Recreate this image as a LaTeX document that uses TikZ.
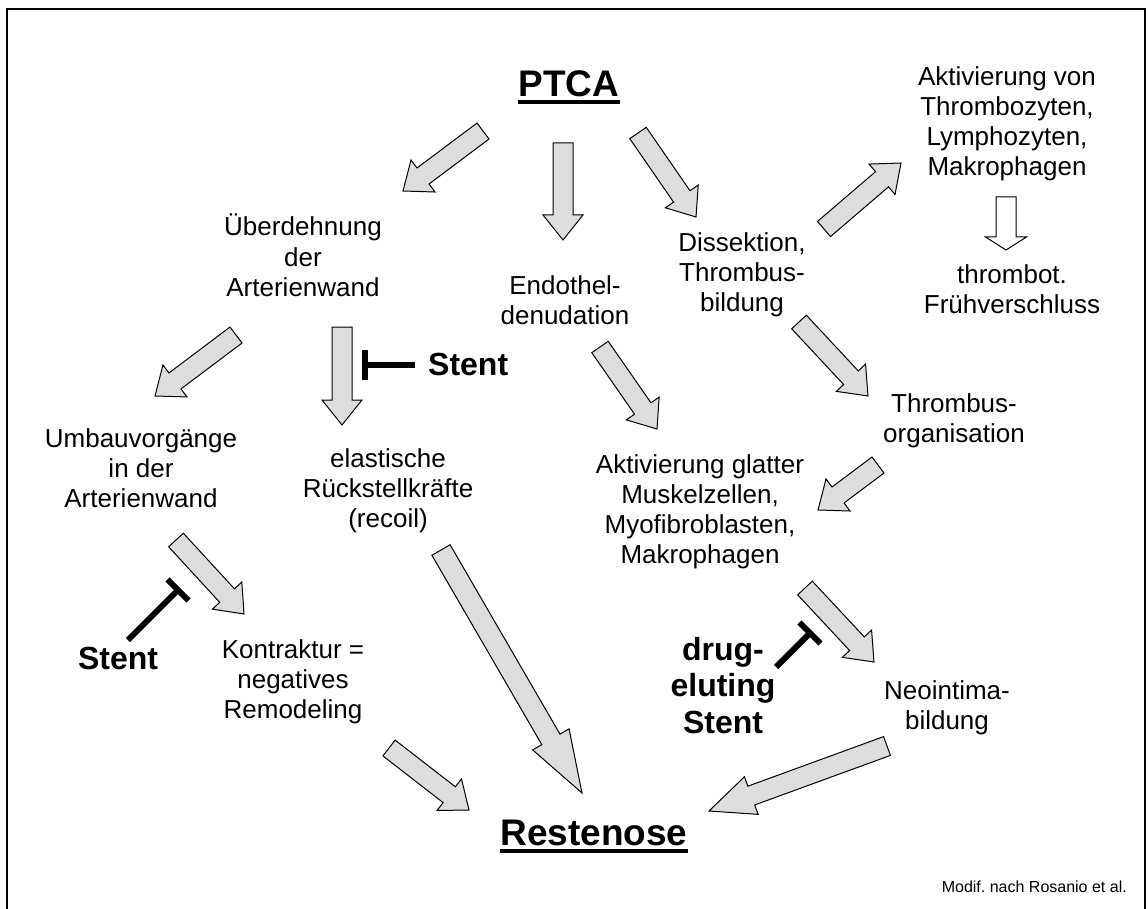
\documentclass[tikz,border=0pt]{standalone}
\usepackage{fontspec}
\setmainfont{Liberation Sans}
\usetikzlibrary{calc}
\definecolor{arrowgray}{HTML}{DDDDDD}
\frenchspacing
\tikzset{
  txt/.style={font=\fontsize{26}{30}\selectfont, align=center, inner sep=0pt, anchor=base},
  lbl/.style={font=\fontsize{32}{36.5}\selectfont\bfseries, align=center, inner sep=0pt, anchor=base},
  ttl/.style={font=\fontsize{37}{42}\selectfont\bfseries, inner sep=0pt, anchor=base},
  blockarr/.style={draw=black, fill=arrowgray, line width=1pt},
  whitearr/.style={draw=black, fill=white, line width=1pt},
  inhib/.style={line width=6pt},
  uline/.style={line width=3.5pt},
}
% #1 options, #2 tail, #3 tip, #4 shaft width, #5 head width, #6 head length
\newcommand\blockarrow[6][]{%
  \coordinate (hb) at ($(#3)!#6pt!(#2)$);
  \draw[blockarr,#1] ($(#2)!#4*0.5pt!90:(#3)$) -- ($(hb)!#4*0.5pt!90:(#3)$)
    -- ($(hb)!#5*0.5pt!90:(#3)$) -- (#3) -- ($(hb)!#5*0.5pt!-90:(#3)$)
    -- ($(hb)!#4*0.5pt!-90:(#3)$) -- ($(#2)!#4*0.5pt!-90:(#3)$) -- cycle;
}
\newcommand\inhibitor[3]{% #1 stem start, #2 bar centre, #3 half bar length
  \draw[inhib] (#1) -- (#2);
  \draw[inhib] ($(#2)!#3pt!90:(#1)$) -- ($(#2)!#3pt!-90:(#1)$);
}
\begin{document}
\begin{tikzpicture}[x=1pt,y=-1pt]
\useasboundingbox (0,0) rectangle (1148,909);
% frame
\draw[line width=2pt] (7,909) -- (7,9) -- (1145,9) -- (1145,909);

% texts (multi-line nodes are anchored at the baseline of their last line)
\node[ttl] (ptca) at (569,97) {PTCA};
\draw[uline] ([yshift=-5pt]ptca.base west) -- ([yshift=-5pt]ptca.base east);
\node[txt] (ueber) at (303,296) {Überdehnung\\der\\Arterienwand};
\node[txt] (endo) at (565,324) {Endothel-\\denudation};
\node[txt] (diss) at (742,312) {Dissektion,\\Thrombus-\\bildung};
\node[txt] (aktv) at (1007,176) {Aktivierung von\\Thrombozyten,\\Lymphozyten,\\Makrophagen};
\node[txt] (frueh) at (1012,313) {thrombot.\\Frühverschluss};
\node[txt] (umbau) at (141,507) {Umbauvorgänge\\in der\\Arterienwand};
\node[txt] (elast) at (388,527) {elastische\\Rückstellkräfte\\(recoil)};
\node[txt] (glatt) at (700,563) {Aktivierung glatter\\Muskelzellen,\\Myofibroblasten,\\Makrophagen};
\node[txt] (torg) at (954,442) {Thrombus-\\organisation};
\node[txt] (kontr) at (293,718) {Kontraktur =\\negatives\\Remodeling};
\node[txt] (neo) at (947,729) {Neointima-\\bildung};
\node[ttl] (rest) at (594,845) {Restenose};
\draw[uline] ([yshift=-6pt]rest.base west) -- ([yshift=-6pt]rest.base east);
\node[lbl, anchor=base west] (st1) at (428,375) {Stent};
\node[lbl] (st2) at (118,669) {Stent};
\node[lbl] (des) at (723,733) {drug-\\eluting\\Stent};
\node[font=\fontsize{16}{19}\selectfont, inner sep=0pt, anchor=base east] (src) at (1127,892) {Modif. nach Rosanio et al.};

% arrow end points
\coordinate (a1t) at (483,131);  \coordinate (a1h) at (403,191);
\coordinate (a2t) at (563,143);  \coordinate (a2h) at (563,240);
\coordinate (a3t) at (638,133);  \coordinate (a3h) at (696,217);
\coordinate (a4t) at (824,229);  \coordinate (a4h) at (901,163);
\coordinate (a5t) at (1006,197); \coordinate (a5h) at (1006,250);
\coordinate (a6t) at (236,335);  \coordinate (a6h) at (155,396);
\coordinate (a7t) at (342,327);  \coordinate (a7h) at (342,425);
\coordinate (a8t) at (176,540);  \coordinate (a8h) at (244,614);
\coordinate (a9t) at (389,748);  \coordinate (a9h) at (469,810);
\coordinate (a10t) at (441,550); \coordinate (a10h) at (582,793);
\coordinate (a11t) at (600,347); \coordinate (a11h) at (657,429);
\coordinate (a12t) at (799,322); \coordinate (a12h) at (868,396);
\coordinate (a13t) at (878,465); \coordinate (a13h) at (818,510);
\coordinate (a14t) at (805,588); \coordinate (a14h) at (874,662);
\coordinate (a15t) at (887,746); \coordinate (a15h) at (709,811);

\blockarrow{a1t}{a1h}{20}{40}{25}
\blockarrow{a2t}{a2h}{20}{40}{25}
\blockarrow{a3t}{a3h}{20}{40}{25}
\blockarrow{a4t}{a4h}{20}{40}{25}
\blockarrow[whitearr]{a5t}{a5h}{20}{41}{13}
\blockarrow{a6t}{a6h}{20}{40}{25}
\blockarrow{a7t}{a7h}{20}{40}{25}
\blockarrow{a8t}{a8h}{20}{40}{25}
\blockarrow{a9t}{a9h}{20}{40}{25}
\blockarrow{a10t}{a10h}{21}{42}{62}
\blockarrow{a11t}{a11h}{20}{40}{25}
\blockarrow{a12t}{a12h}{20}{40}{25}
\blockarrow{a13t}{a13h}{20}{40}{25}
\blockarrow{a14t}{a14h}{20}{40}{25}
\blockarrow{a15t}{a15h}{20}{40}{45}

% inhibitors
\coordinate (i1s) at (415,365); \coordinate (i1b) at (365,365);
\coordinate (i2s) at (128,640); \coordinate (i2b) at (178,590);
\coordinate (i3s) at (776,667); \coordinate (i3b) at (810,633);
\inhibitor{i1s}{i1b}{15}
\inhibitor{i2s}{i2b}{15}
\inhibitor{i3s}{i3b}{15}
\end{tikzpicture}
\end{document}
